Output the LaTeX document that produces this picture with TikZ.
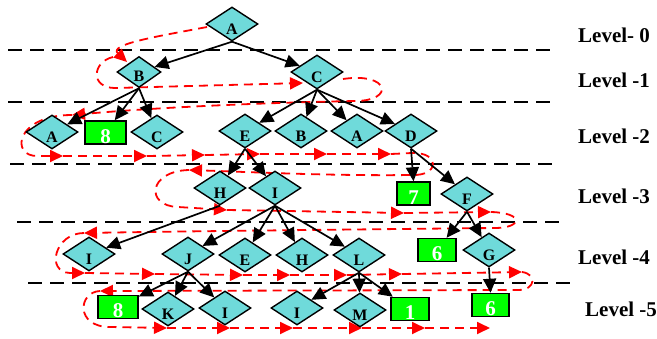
\documentclass[tikz,border=0pt]{standalone}
\usepackage{fontspec}
\setmainfont{Liberation Serif}
\usetikzlibrary{shapes.geometric,arrows.meta}
\definecolor{dcyan}{RGB}{111,218,218}
\definecolor{dgreen}{RGB}{0,255,0}
\tikzset{
  dia/.style={diamond, aspect=1.55, draw=black, line width=1.4pt, fill=dcyan,
    minimum width=52pt, minimum height=34pt, inner sep=0pt,
    text height=21pt, text depth=0pt, font=\fontsize{16}{16}\selectfont\bfseries},
  bx/.style={rectangle, draw=black, line width=1.5pt, fill=dgreen,
    minimum width=38pt, minimum height=23pt, inner sep=0pt,
    text height=21pt, text depth=0pt, text=white, font=\fontsize{21}{21}\selectfont\bfseries},
  lvl/.style={anchor=base west, inner sep=0pt, font=\fontsize{21}{21}\selectfont\bfseries},
  sep/.style={draw=black, line width=1.8pt, dash pattern=on 14pt off 8pt},
  blk/.style={draw=black, line width=1.7pt, -{Triangle[length=14pt,width=13pt]}},
  rd/.style={draw=red, line width=1.8pt, dash pattern=on 9pt off 6pt, -{Triangle[length=13pt,width=12pt]}}
}
\begin{document}
\begin{tikzpicture}[x=1pt,y=-1pt]
\useasboundingbox (0,0) rectangle (657,338);
% separators
\draw[sep] (8,50) -- (552,50);
\draw[sep] (8,102) -- (552,102);
\draw[sep] (10,164) -- (553,164);
\draw[sep] (17,222) -- (560,222);
\draw[sep] (28,283) -- (570,283);
% level labels
\node[lvl] (l0) at (578,42) {Level- 0};
\node[lvl] (l1) at (578,87) {Level -1};
\node[lvl] (l2) at (578,143) {Level -2};
\node[lvl] (l3) at (578,203) {Level -3};
\node[lvl] (l4) at (578,264) {Level -4};
\node[lvl] (l5) at (585,316) {Level -5};
% red traversal
\draw[rd] (207,27) .. controls (160,36) and (108,44) .. (127,62);
\draw[rd] (113,57) .. controls (92,62) and (90,88) .. (115,88) -- (303,83);
\draw[rd] (343,79) .. controls (390,72) and (395,101) .. (355,101) .. controls (250,103) and (150,108) .. (72,115);
\draw[rd] (72,115) .. controls (15,115) and (10,157) .. (38,156) -- (63,156);
\draw[rd] (63,156) -- (147,156);
\draw[rd] (147,156) -- (205,155);
\draw[rd] (205,155) -- (260,154);
\draw[rd] (260,154) -- (327,154);
\draw[rd] (327,154) -- (391,154);
\draw[rd] (391,154) -- (412,153) .. controls (440,152) and (440,176) .. (412,175) .. controls (330,176) and (250,172) .. (189,170);
\draw[rd] (189,170) .. controls (148,171) and (145,206) .. (178,207) -- (227,210);
\draw[rd] (227,210) -- (404,213);
\draw[rd] (404,213) -- (491,212);
\draw[rd] (491,212) .. controls (525,213) and (522,228) .. (495,228) .. controls (400,229) and (200,231) .. (84,233);
\draw[rd] (84,233) .. controls (55,233) and (45,272) .. (70,273) -- (85,273);
\draw[rd] (85,273) -- (155,274);
\draw[rd] (155,274) -- (243,275);
\draw[rd] (243,275) -- (290,275);
\draw[rd] (290,275) -- (347,275);
\draw[rd] (347,275) -- (402,274);
\draw[rd] (402,274) -- (522,272);
\draw[rd] (522,272) .. controls (537,274) and (536,290) .. (518,290) -- (100,291);
\draw[rd] (100,291) .. controls (78,292) and (75,327) .. (110,327) -- (167,328);
\draw[rd] (167,328) -- (230,328);
\draw[rd] (230,328) -- (293,328);
\draw[rd] (293,328) -- (362,328);
\draw[rd] (362,328) -- (425,328);
\draw[rd] (425,328) -- (490,328);
% nodes
\node[dia] (A0) at (232,24) {A};
\node[dia, minimum width=44pt, minimum height=31pt, aspect=1.42, text height=19pt] (B1) at (139,72) {B};
\node[dia] (C1) at (317,72) {C};
\node[dia] (A2) at (52,132) {A};
\node[bx, minimum width=41pt] (E8a) at (105.5,132.5) {8};
\node[dia] (C2) at (157,132) {C};
\node[dia] (E2) at (245,131) {E};
\node[dia] (B2) at (301,131) {B};
\node[dia] (A2b) at (357,131) {A};
\node[dia] (D2) at (411,131) {D};
\node[dia] (H3) at (220,188) {H};
\node[dia] (I3) at (275,188) {I};
\node[bx, minimum width=33pt] (E7) at (413.5,193.5) {7};
\node[dia] (F3) at (467,194) {F};
\node[dia] (I4) at (89,254) {I};
\node[dia] (J4) at (188,254) {J};
\node[dia] (E4) at (245,255) {E};
\node[dia] (H4) at (302,255) {H};
\node[dia] (L4) at (359,255) {L};
\node[bx] (E6a) at (437,250) {6};
\node[dia] (G4) at (489,250) {G};
\node[bx, minimum width=40pt] (E8b) at (118,307) {8};
\node[dia] (K5) at (168,309) {K};
\node[dia] (I5a) at (225,308) {I};
\node[dia] (I5b) at (297,308) {I};
\node[dia] (M5) at (360,310) {M};
\node[bx] (E1) at (410,309) {1};
\node[bx, minimum width=37pt] (E6b) at (490.5,305) {6};
% tree edges
\draw[blk] (A0.south) -- (B1);
\draw[blk] (A0.south) -- (C1);
\draw[blk] (B1.south) -- (A2);
\draw[blk] (B1.south) -- (E8a);
\draw[blk] (B1.south) -- (C2);
\draw[blk] (C1.south) -- (E2);
\draw[blk] (C1.south) -- (B2);
\draw[blk] (C1.south) -- (A2b);
\draw[blk] (C1.south) -- (D2);
\draw[blk] (E2.south) -- (H3);
\draw[blk] (E2.south) -- (I3);
\draw[blk] (D2.south) -- (E7.north);
\draw[blk] (D2.south) -- (F3);
\draw[blk] (H3.south) -- (I4);
\draw[blk] (I3.south) -- (J4);
\draw[blk] (I3.south) -- (E4);
\draw[blk] (I3.south) -- (H4);
\draw[blk] (I3.south) -- (L4);
\draw[blk] (F3.south) -- (E6a);
\draw[blk] (F3.south) -- (G4);
\draw[blk] (J4.south) -- (E8b);
\draw[blk] (J4.south) -- (K5);
\draw[blk] (J4.south) -- (I5a);
\draw[blk] (L4.south) -- (I5b);
\draw[blk] (L4.south) -- (M5);
\draw[blk] (L4.south) -- (E1);
\draw[blk] (G4.south) -- (E6b.north);
\end{tikzpicture}
\end{document}
